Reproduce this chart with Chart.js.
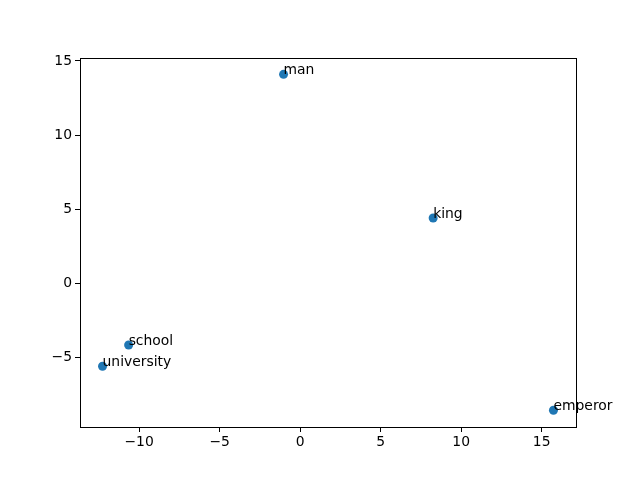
<!DOCTYPE html>
<html>
<head>
<meta charset="utf-8">
<script src="https://cdn.jsdelivr.net/npm/chart.js@4/dist/chart.umd.min.js"></script>
<style>
html,body{margin:0;padding:0;background:#fff;}
canvas{display:block;}
</style>
</head>
<body>
<canvas id="c" width="640" height="480"></canvas>
<script>
const words = ['man', 'king', 'emperor', 'school', 'university'];
const xValues = [-1.03, 8.26, 15.73, -10.65, -12.27];
const yValues = [14.10, 4.41, -8.56, -4.16, -5.59];
const xTicks = [-10, -5, 0, 5, 10, 15];
const yTicks = [-5, 0, 5, 10, 15];

const FONT = "'DejaVu Sans', sans-serif";
const fmt = v => (v < 0 ? '\u2212' + Math.abs(v) : String(v));

const framePlugin = {
  id: 'frame',
  afterDatasetsDraw(chart) {
    const {ctx, chartArea: a, scales} = chart;
    ctx.save();
    ctx.strokeStyle = '#000';
    ctx.lineWidth = 1;
    ctx.strokeRect(Math.round(a.left) + 0.5, Math.round(a.top) + 0.5, Math.round(a.right - a.left), Math.round(a.bottom - a.top));
    ctx.fillStyle = '#000';
    ctx.font = '13.9px ' + FONT;
    ctx.textAlign = 'left';
    ctx.textBaseline = 'alphabetic';
    words.forEach((w, i) => {
      const px = scales.x.getPixelForValue(xValues[i]);
      const py = scales.y.getPixelForValue(yValues[i]);
      ctx.fillText(w, px, py);
    });
    ctx.restore();
  }
};

new Chart(document.getElementById('c'), {
  type: 'scatter',
  data: {
    datasets: [{
      data: xValues.map((x, i) => ({x: x, y: yValues[i]})),
      backgroundColor: '#1f77b4',
      borderColor: '#1f77b4',
      pointRadius: 4.5,
      pointHoverRadius: 4.5,
      borderWidth: 0
    }]
  },
  options: {
    responsive: false,
    animation: false,
    layout: {padding: {left: 0, right: 64, top: 58, bottom: 0}},
    plugins: {legend: {display: false}, tooltip: {enabled: false}},
    scales: {
      x: {
        type: 'linear',
        min: -13.67, max: 17.13,
        afterFit: s => { s.height = 53; },
        afterBuildTicks: s => { s.ticks = xTicks.map(v => ({value: v})); },
        grid: {drawOnChartArea: false, drawTicks: true, tickLength: 5, color: '#000'},
        border: {display: true, color: '#000'},
        ticks: {color: '#000', font: {family: FONT, size: 13.9}, padding: 2, callback: v => fmt(v), maxRotation: 0}
      },
      y: {
        type: 'linear',
        min: -9.69, max: 15.2,
        afterFit: s => { s.width = 80; },
        afterBuildTicks: s => { s.ticks = yTicks.map(v => ({value: v})); },
        grid: {drawOnChartArea: false, drawTicks: true, tickLength: 5, color: '#000'},
        border: {display: true, color: '#000'},
        ticks: {color: '#000', font: {family: FONT, size: 13.9}, padding: 3, callback: v => fmt(v)}
      }
    }
  },
  plugins: [framePlugin]
});
</script>
</body>
</html>
